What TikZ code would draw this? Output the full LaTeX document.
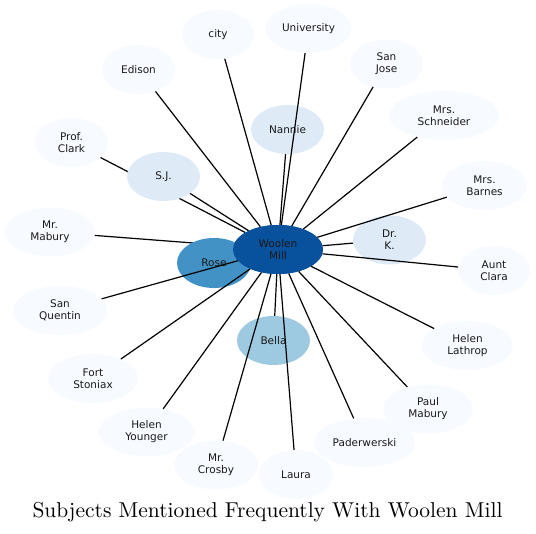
\documentclass[tikz,border=0pt]{standalone}
\usepackage{fontspec}
\newfontfamily\nodefont{DejaVu Sans}
\newfontfamily\titlefont{lmroman10-regular.otf}
\usetikzlibrary{shapes.geometric}
\definecolor{bpale}{HTML}{F7FBFF}
\definecolor{blight}{HTML}{DEEBF7}
\definecolor{bmid}{HTML}{9ECAE1}
\definecolor{brose}{HTML}{4292C6}
\definecolor{bdark}{HTML}{08519C}
\tikzset{
  ent/.style={ellipse, inner sep=0pt, minimum height=49pt, align=center,
    font=\nodefont\fontsize{10.5}{12.2}\selectfont, text=black!90},
  pale/.style={ent, fill=bpale},
  light/.style={ent, fill=blight},
  edge/.style={draw=black, line width=1.2pt},
}
\begin{document}
\begin{tikzpicture}[x=1pt,y=-1pt]
\useasboundingbox (0,0) rectangle (536,534);
% hub first (for hidden edges)
\node[ent, fill=bdark, minimum width=90pt] (wm) at (278,249.5) {Woolen\\Mill};
\node[pale, minimum width=73pt] (clark) at (71.5,142.5) {Prof.\\Clark};
\node[pale, minimum width=90pt] (mmab) at (50,232) {Mr.\\Mabury};
\draw[edge] (wm) -- (clark);
\draw[edge] (wm) -- (mmab);
% nodes
\node[pale, minimum width=72pt] (city) at (218,34.5) {city};
\node[pale, minimum width=86pt] (univ) at (308.5,28.5) {University};
\node[pale, minimum width=73pt] (edison) at (138.5,69.5) {Edison};
\node[pale, minimum width=73pt] (sjose) at (386.5,64) {San\\Jose};
\node[light, minimum width=73pt] (nannie) at (287.5,129.5) {Nannie};
\node[pale, minimum width=110pt] (schn) at (444,115.5) {Mrs.\\Schneider};
\node[light, minimum width=73pt] (sj) at (163.5,176.5) {S.J.};
\node[pale, minimum width=85pt] (barnes) at (484.5,185.5) {Mrs.\\Barnes};
\node[light, minimum width=73pt] (drk) at (389.5,240) {Dr.\\K.};
\node[ent, fill=brose, minimum width=74pt, minimum height=50pt] (rose) at (214,263) {Rose};
\node[pale, minimum width=72pt] (clara) at (494,270.5) {Aunt\\Clara};
\node[pale, minimum width=94pt] (sq) at (60,310.5) {San\\Quentin};
\node[ent, fill=bmid, minimum width=73pt] (bella) at (273.5,340.5) {Bella};
\node[pale, minimum width=91pt] (hlath) at (467.5,345.5) {Helen\\Lathrop};
\node[pale, minimum width=90pt] (fort) at (93,378.5) {Fort\\Stoniax};
\node[pale, minimum width=90pt] (pmab) at (428,409) {Paul\\Mabury};
\node[pale, minimum width=95pt] (hyoung) at (146.5,432) {Helen\\Younger};
\node[pale, minimum width=101pt] (pader) at (364.5,442.5) {Paderwerski};
\node[pale, minimum width=84pt] (crosby) at (216,465) {Mr.\\Crosby};
\node[pale, minimum width=74pt] (laura) at (296,474.5) {Laura};
% hub redrawn on top
\node[ent, fill=bdark, minimum width=90pt] (wm) at (278,249.5) {Woolen\\Mill};
% edges
\foreach \t in {city,univ,edison,sjose,nannie,schn,sj,barnes,drk,clara,sq,bella,hlath,fort,pmab,hyoung,pader,crosby,laura}
  \draw[edge] (wm) -- (\t);
% title
\node (title) at (267.5,512) {\titlefont\fontsize{21.5}{25}\selectfont Subjects Mentioned Frequently With Woolen Mill};
\end{tikzpicture}
\end{document}
